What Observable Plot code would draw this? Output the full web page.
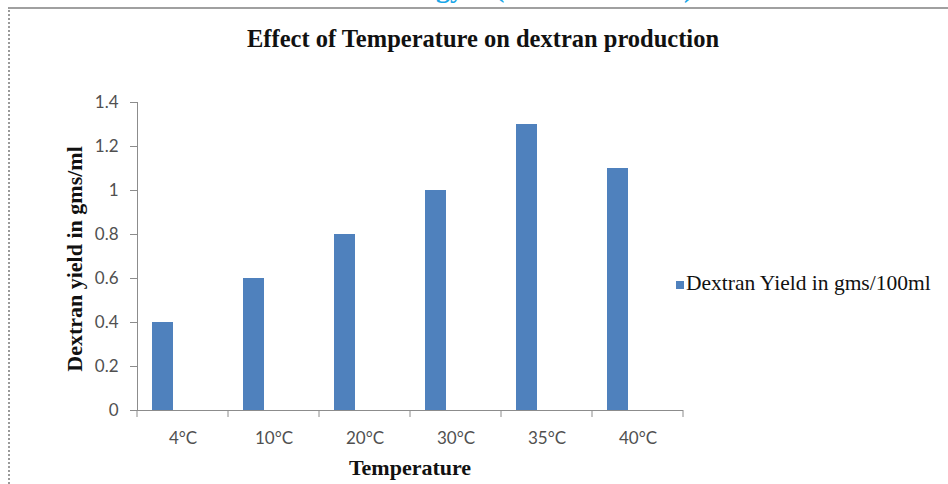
<!DOCTYPE html>
<html><head><meta charset="utf-8">
<script src="https://cdn.jsdelivr.net/npm/d3@7"></script>
<script src="https://cdn.jsdelivr.net/npm/@observablehq/plot@0.6"></script>
<style>
body{margin:0;background:#fff}
#wrap{position:relative;width:948px;height:484px;overflow:hidden;background:#fff}
#frame{position:absolute;left:8px;top:7px;width:960px;height:500px;border-left:2px dotted #9a9a9a;border-top:2px solid #a0a0a0;box-sizing:border-box}
.cy{position:absolute;top:-26px;font:bold 28px "Liberation Serif",serif;color:#1aa7e8;white-space:pre;line-height:28px}
#title{position:absolute;left:0;width:966px;top:25px;text-align:center;font:bold 24.5px "Liberation Serif",serif;color:#111}
#ylab{position:absolute;left:75px;top:259px;transform:translate(-50%,-50%) rotate(-90deg);white-space:nowrap;font:bold 22px "Liberation Serif",serif;color:#111}
#xlab{position:absolute;left:410px;top:455px;transform:translateX(-50%);white-space:nowrap;font:bold 22px "Liberation Serif",serif;color:#111}
#legend{position:absolute;left:676px;top:271px;white-space:nowrap;font:21.5px "Liberation Serif",serif;color:#111;display:flex;align-items:center}
#legend .sw{width:8px;height:8px;background:#4F81BD;margin-right:2px;margin-top:2px}
#plot{position:absolute;left:0;top:0}
</style></head><body>
<div id="wrap">
  <div class="cy" style="left:436px">gy</div>
  <div class="cy" style="left:495px">(</div>
  <div class="cy" style="left:684px">)</div>
  <div id="frame"></div>
  <div id="plot"></div>
  <div id="title"></div>
  <div id="ylab"></div>
  <div id="xlab"></div>
  <div id="legend"><span class="sw"></span><span id="legtext"></span></div>
</div>
<script>
const temperatures = ["4°C", "10°C", "20°C", "30°C", "35°C", "40°C"];
const yields = [0.4, 0.6, 0.8, 1.0, 1.3, 1.1];
const yTicks = [0, 0.2, 0.4, 0.6, 0.8, 1, 1.2, 1.4];
const seriesName = "Dextran Yield in gms/100ml";
const titleText = "Effect of Temperature on dextran production";
const yLabel = "Dextran yield in gms/ml";
const xLabel = "Temperature";

document.getElementById("title").textContent = titleText;
document.getElementById("ylab").textContent = yLabel;
document.getElementById("xlab").textContent = xLabel;
document.getElementById("legtext").textContent = seriesName;

const data = temperatures.map((t, i) => ({temp: t, value: yields[i]}));
const axisColor = "#8c8c8c";

const chart = Plot.plot({
  width: 948, height: 484,
  marginTop: 102, marginBottom: 74, marginLeft: 137, marginRight: 265,
  style: {fontFamily: "Lato, 'Liberation Sans', sans-serif", fontSize: "17px", background: "transparent", color: "#505050"},
  x: {domain: temperatures, padding: 0, axis: null, label: null},
  y: {domain: [0, 1.4], axis: null, label: null},
  marks: [
    Plot.barY(data, {x: "temp", y: "value", fill: "#4F81BD", insetLeft: 15, insetRight: 55}),
    Plot.axisY({ticks: yTicks, tickSize: 7, tickPadding: 12, tickFormat: d => String(+d.toFixed(1)), stroke: axisColor, fill: "#505050", label: null}),
    Plot.axisX({tickSize: 0, tickPadding: 21, fill: "#505050", label: null}),
    Plot.ruleY([0], {stroke: axisColor}),
    Plot.frame({anchor: "left", stroke: axisColor})
  ]
});
document.getElementById("plot").appendChild(chart);

// category boundary ticks below the x axis
const xs = chart.scale("x");
const ys = chart.scale("y");
const y0 = ys.apply(0);
const bounds = temperatures.map(t => xs.apply(t)).concat([xs.apply(temperatures[temperatures.length - 1]) + xs.bandwidth]);
d3.select(chart).append("g")
  .selectAll("line").data(bounds).join("line")
  .attr("x1", d => d).attr("x2", d => d)
  .attr("y1", y0).attr("y2", y0 + 7)
  .attr("stroke", axisColor);
</script>
</body></html>
